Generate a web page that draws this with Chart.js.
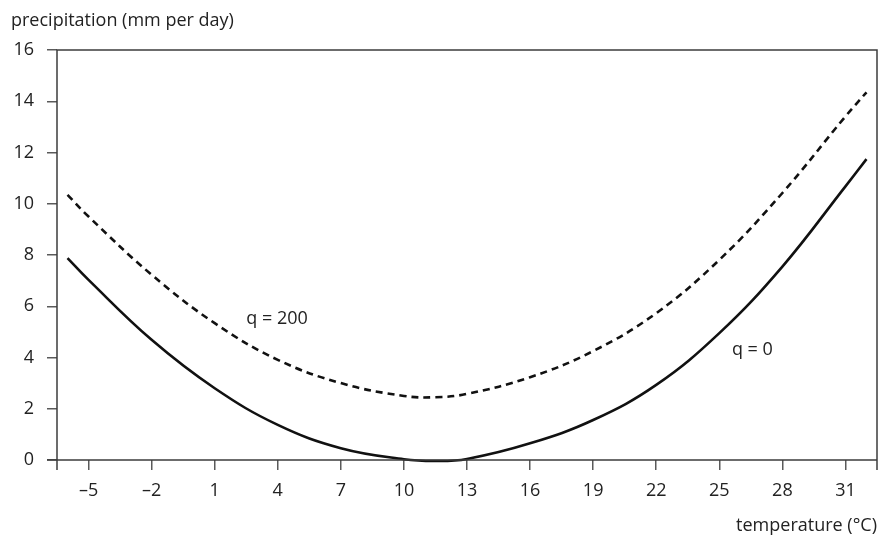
<!DOCTYPE html>
<html>
<head>
<meta charset="utf-8">
<script src="https://cdn.jsdelivr.net/npm/chart.js@4.4.1/dist/chart.umd.min.js"></script>
<style>
  html, body { margin: 0; padding: 0; background: #fff; }
  #wrap { width: 878px; height: 540px; position: relative; }
</style>
</head>
<body>
<div id="wrap"><canvas id="precipChart"></canvas></div>
<script>
// values
const temps = [-6, -5, -2, 1, 4, 7, 10, 11.5, 13, 16, 19, 22, 25, 28, 31, 32];
const precipQ0 = [7.88, 7.03, 4.69, 2.8, 1.37, 0.46, 0.03, -0.04, 0.04, 0.65, 1.56, 2.93, 4.95, 7.55, 10.68, 11.74];
const precipQ200 = [10.35, 9.5, 7.23, 5.34, 3.91, 3.0, 2.5, 2.45, 2.58, 3.23, 4.25, 5.73, 7.81, 10.42, 13.41, 14.35];
const xTicks = [-5, -2, 1, 4, 7, 10, 13, 16, 19, 22, 25, 28, 31];
const yTicks = [0, 2, 4, 6, 8, 10, 12, 14, 16];

const FONT = "'Open Sans', 'Noto Sans', sans-serif";
const AXIS = "#3c3c3c";
const TICK = "#5a5a5a";

function points(ys) {
  return temps.map((t, i) => ({ x: t, y: ys[i] }));
}

const framePlugin = {
  id: "frame",
  afterDraw(chart) {
    const { ctx, chartArea: a } = chart;
    ctx.save();
    ctx.strokeStyle = AXIS;
    ctx.lineWidth = 1.5;
    ctx.beginPath();
    ctx.moveTo(a.left, a.bottom + 10);
    ctx.lineTo(a.left, a.top);
    ctx.lineTo(a.right, a.top);
    ctx.lineTo(a.right, a.bottom + 10);
    ctx.moveTo(a.left - 10, a.bottom);
    ctx.lineTo(a.right, a.bottom);
    ctx.stroke();

    ctx.fillStyle = "#222";
    ctx.font = "18px " + FONT;
    ctx.textBaseline = "middle";
    ctx.textAlign = "left";
    ctx.fillText("precipitation (mm per day)", 11, 21);
    ctx.textAlign = "right";
    ctx.fillText("temperature (\u00B0C)", 877, 526);

    // curve labels
    const xs = chart.scales.x, ys = chart.scales.y;
    ctx.textAlign = "left";
    ctx.fillText("q = 200", xs.getPixelForValue(2.5), ys.getPixelForValue(5.5));
    ctx.fillText("q = 0", xs.getPixelForValue(25.6), ys.getPixelForValue(4.3));
    ctx.restore();
  }
};

new Chart(document.getElementById("precipChart"), {
  type: "line",
  data: {
    datasets: [
      {
        label: "q = 0",
        data: points(precipQ0),
        borderColor: "#111",
        borderWidth: 2.6,
        pointRadius: 0,
        tension: 0.4,
        clip: false
      },
      {
        label: "q = 200",
        data: points(precipQ200),
        borderColor: "#111",
        borderWidth: 2.6,
        borderDash: [7, 5],
        pointRadius: 0,
        tension: 0.4,
        clip: false
      }
    ]
  },
  options: {
    responsive: true,
    maintainAspectRatio: false,
    animation: false,
    events: [],
    layout: { padding: { top: 50, right: 1, left: 0, bottom: 0 } },
    plugins: {
      legend: { display: false },
      tooltip: { enabled: false }
    },
    scales: {
      x: {
        type: "linear",
        min: -6.5,
        max: 32.5,
        afterBuildTicks: (s) => { s.ticks = xTicks.map((v) => ({ value: v })); },
        afterFit: (s) => { s.height = 80; },
        border: { display: false },
        grid: { drawOnChartArea: false, tickLength: 10, color: TICK, lineWidth: 1.5 },
        ticks: {
          color: "#222",
          font: { family: FONT, size: 18 },
          padding: 10,
          maxRotation: 0,
          autoSkip: false,
          callback: (v) => String(v).replace("-", "\u2013")
        }
      },
      y: {
        min: 0,
        max: 16,
        afterBuildTicks: (s) => { s.ticks = yTicks.map((v) => ({ value: v })); },
        afterFit: (s) => { s.width = 57; },
        border: { display: false },
        grid: { drawOnChartArea: false, tickLength: 10, color: TICK, lineWidth: 1.5 },
        ticks: {
          color: "#222",
          font: { family: FONT, size: 18 },
          padding: 13
        }
      }
    }
  },
  plugins: [framePlugin]
});
</script>
</body>
</html>
